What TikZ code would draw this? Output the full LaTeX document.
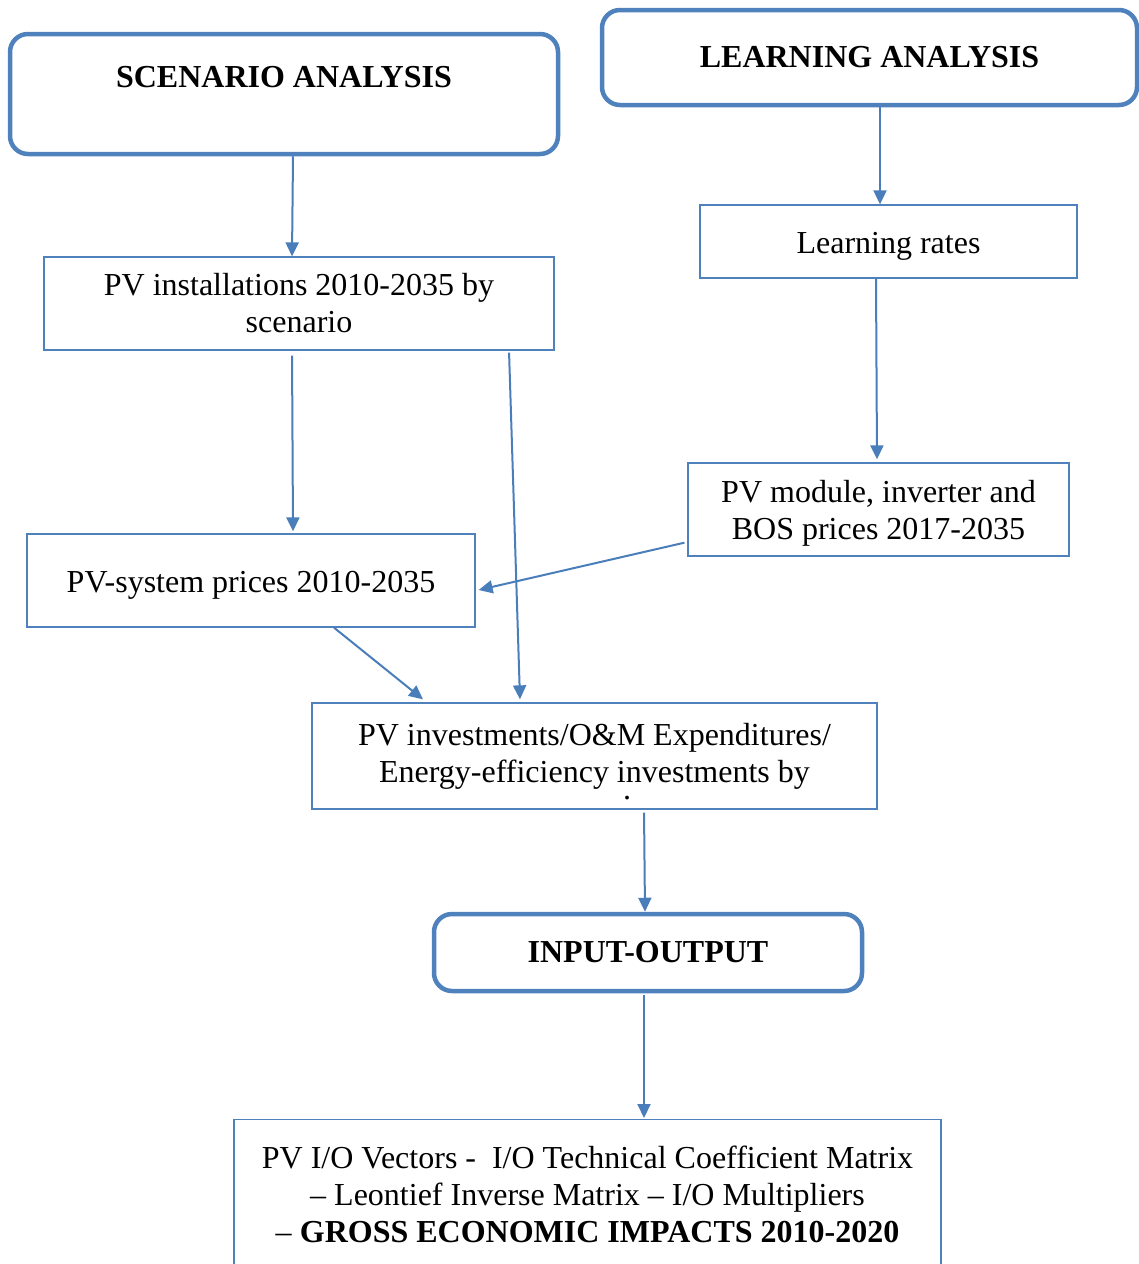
\documentclass[tikz,border=0pt]{standalone}
\usepackage{fontspec}
\setmainfont{Liberation Serif}
\usetikzlibrary{arrows.meta}
\definecolor{boxblue}{HTML}{4F81BD}
\definecolor{arrowblue}{HTML}{4A7EBB}
\tikzset{
    headbox/.style={draw=boxblue,line width=4.5pt,rounded corners=18pt,inner sep=0pt,
        align=center,font=\fontsize{32}{37}\selectfont\bfseries},
    stepbox/.style={draw=boxblue,line width=1.3pt,inner sep=0pt,
        align=center,font=\fontsize{32}{37}\selectfont},
    arr/.style={draw=arrowblue,line width=2pt,-{Triangle[length=14pt,width=13pt]}}
}
\begin{document}
\begin{tikzpicture}[x=1pt,y=-1pt]
    \useasboundingbox (0,0) rectangle (1139,1264);
    % analysis boxes
    \node[headbox,minimum width=548pt,minimum height=120pt] (scen) at (284,94) {SCENARIO ANALYSIS\\[-14pt] \strut};
    \node[headbox,minimum width=535pt,minimum height=95pt] (learn) at (869.5,57.5) {LEARNING ANALYSIS};
    % intermediate steps
    \node[stepbox,minimum width=510pt,minimum height=93pt] (inst) at (299,303.5) {PV installations 2010-2035 by\\ scenario};
    \node[stepbox,minimum width=377pt,minimum height=73pt,text height=31pt,text depth=7pt] (rates) at (888.5,241.5) {Learning rates};
    \node[stepbox,minimum width=381pt,minimum height=93pt,text height=67pt] (module) at (878.5,509.5) {PV module, inverter and\\ BOS prices 2017-2035};
    \node[stepbox,minimum width=448pt,minimum height=93pt,text height=31pt,text depth=7pt] (sys) at (251,580.5) {PV-system prices 2010-2035};
    \node[stepbox,minimum width=565pt,minimum height=106pt] (invest) at (594.5,756) {PV investments/O\&M Expenditures/\\ Energy-efficiency investments by};
    \node[inner sep=0pt,font=\fontsize{32}{37}\selectfont] (dot) at (627,798) {.};
    \node[headbox,minimum width=428pt,minimum height=77pt] (io) at (648,952.5) {INPUT-OUTPUT};
    \node[stepbox,anchor=north,minimum width=707pt,minimum height=220pt,text depth=70pt] (out) at (587.5,1119)
        {PV I/O Vectors -\ \ I/O Technical Coefficient Matrix\\ -- Leontief Inverse Matrix -- I/O Multipliers\\ -- \textbf{GROSS ECONOMIC IMPACTS 2010-2020}};
    % connectors
    \draw[arr] ([xshift=9pt]scen.south) -- ([xshift=-7pt]inst.north);
    \draw[arr] ([xshift=10.5pt]learn.south) -- ([xshift=-8.5pt]rates.north);
    \draw[arr] ([xshift=-12.5pt]rates.south) -- ([xshift=-1.5pt,yshift=3pt]module.north);
    \draw[arr,shorten <=5pt] ([xshift=-7pt]inst.south) -- ([xshift=42pt,yshift=2pt]sys.north);
    \draw[arr,shorten <=2pt] ([xshift=210pt]inst.south) -- ([xshift=-74.5pt,yshift=3pt]invest.north);
    \draw[arr,shorten <=3pt] ([yshift=-32.5pt]module.west) -- ([xshift=3pt,yshift=-9.5pt]sys.east);
    \draw[arr] ([xshift=83pt]sys.south) -- ([xshift=-171.5pt,yshift=3pt]invest.north);
    \draw[arr,shorten <=3pt] ([xshift=49.5pt]invest.south) -- ([xshift=-3pt]io.north);
    \draw[arr,shorten <=2pt] ([xshift=-4pt]io.south) -- ([xshift=56.5pt,yshift=1pt]out.north);
\end{tikzpicture}
\end{document}
